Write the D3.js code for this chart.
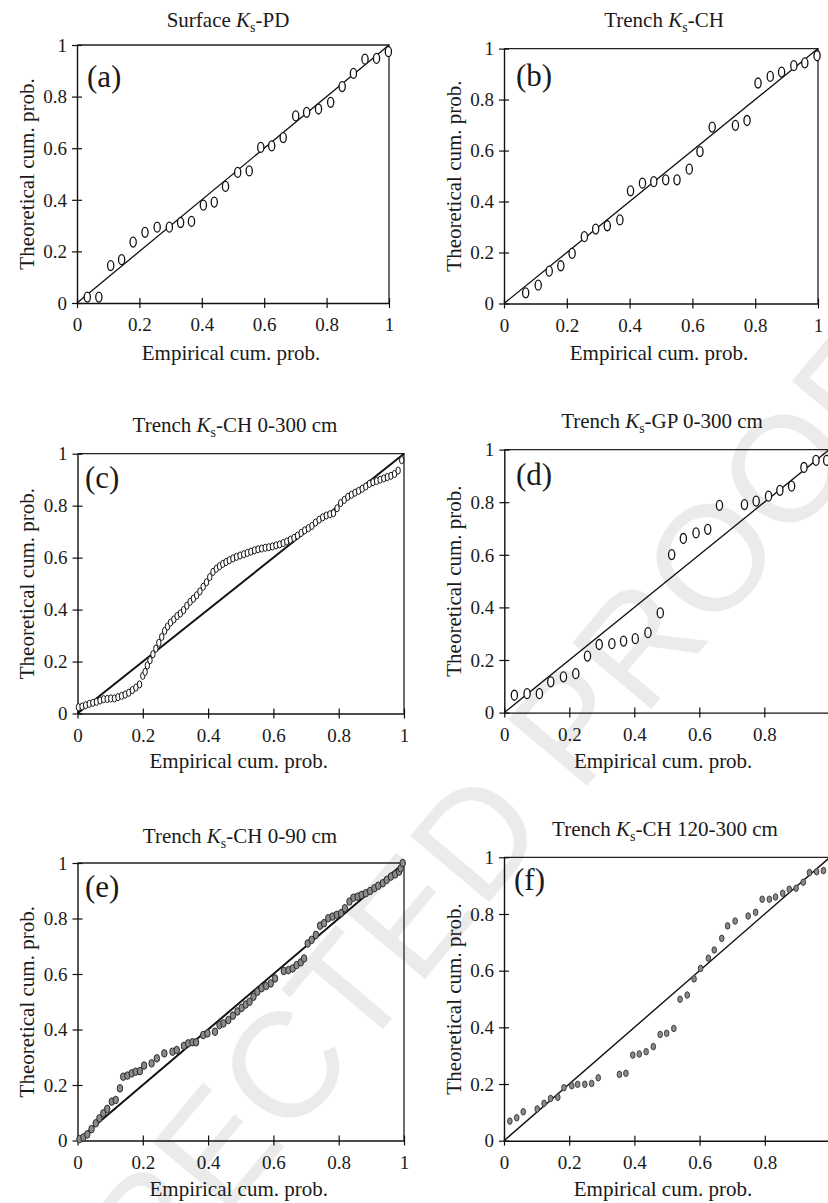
<!DOCTYPE html>
<html><head><meta charset="utf-8">
<script src="https://cdn.jsdelivr.net/npm/d3@7"></script>
<style>
body{margin:0;background:#fff}
svg{display:block}
svg text{font-family:"Liberation Serif","LiberationSerif",Tinos,"Times New Roman",Times,"Noto Serif","DejaVu Serif",serif !important;fill:#1a1a1a}
svg text.wm{font-family:"Liberation Sans",Arimo,Arial,"DejaVu Sans",sans-serif !important;fill:#ebebeb}
</style>
</head><body>
<svg id="chart" width="828" height="1203"></svg>
<script>
// ---------- data ----------
const tickValues = [0, 0.2, 0.4, 0.6, 0.8, 1];
const tickLabels = ["0", "0.2", "0.4", "0.6", "0.8", "1"];
const panelLetters = ["(a)", "(b)", "(c)", "(d)", "(e)", "(f)"];
const titleHead = ["Surface ", "Trench ", "Trench ", "Trench ", "Trench ", "Trench "];
const titleTail = ["-PD", "-CH", "-CH 0-300 cm", "-GP 0-300 cm", "-CH 0-90 cm", "-CH 120-300 cm"];
const xAxisTitle = "Empirical cum. prob.";
const yAxisTitle = "Theoretical cum. prob.";
const fitLine = [0, 1];
const watermarkWords = ["UNCORRECTED", "PROOF"];

const aEmp = [0.033,0.07,0.108,0.143,0.18,0.218,0.257,0.296,0.332,0.367,0.405,0.44,0.476,0.515,0.552,0.589,0.624,0.661,0.701,0.736,0.774,0.813,0.85,0.886,0.923,0.96,0.998];
const aTheo = [0.023,0.023,0.145,0.168,0.236,0.274,0.294,0.294,0.312,0.316,0.379,0.391,0.452,0.506,0.512,0.603,0.609,0.641,0.725,0.739,0.752,0.778,0.839,0.89,0.945,0.948,0.974];

const bEmp = [0.069,0.109,0.144,0.181,0.217,0.256,0.292,0.329,0.369,0.403,0.441,0.477,0.515,0.551,0.59,0.624,0.663,0.737,0.774,0.809,0.848,0.884,0.923,0.958,0.997];
const bTheo = [0.042,0.072,0.127,0.148,0.197,0.262,0.292,0.305,0.328,0.442,0.472,0.478,0.485,0.485,0.527,0.596,0.692,0.699,0.718,0.865,0.891,0.908,0.933,0.944,0.972];

const cEmp = [0.003,0.014,0.025,0.036,0.047,0.058,0.069,0.08,0.091,0.102,0.113,0.124,0.135,0.146,0.157,0.168,0.179,0.19,0.2,0.207,0.214,0.222,0.231,0.24,0.249,0.258,0.267,0.276,0.285,0.295,0.305,0.315,0.325,0.335,0.345,0.355,0.365,0.375,0.385,0.395,0.405,0.415,0.425,0.435,0.445,0.455,0.465,0.476,0.487,0.498,0.509,0.52,0.531,0.542,0.553,0.564,0.575,0.586,0.597,0.608,0.619,0.63,0.641,0.652,0.663,0.674,0.685,0.696,0.707,0.718,0.729,0.74,0.751,0.762,0.773,0.784,0.795,0.806,0.817,0.828,0.839,0.85,0.861,0.872,0.883,0.894,0.905,0.916,0.927,0.938,0.949,0.96,0.971,0.982,0.993];
const cTheo = [0.024,0.027,0.032,0.037,0.041,0.045,0.05,0.055,0.056,0.058,0.058,0.063,0.068,0.073,0.08,0.09,0.1,0.112,0.145,0.16,0.185,0.205,0.228,0.25,0.272,0.295,0.318,0.335,0.35,0.362,0.375,0.385,0.398,0.415,0.43,0.442,0.455,0.47,0.488,0.505,0.525,0.545,0.557,0.567,0.576,0.583,0.59,0.597,0.603,0.608,0.613,0.618,0.623,0.628,0.632,0.635,0.638,0.64,0.643,0.647,0.651,0.656,0.662,0.669,0.676,0.685,0.695,0.705,0.713,0.722,0.735,0.746,0.755,0.762,0.767,0.771,0.79,0.81,0.822,0.834,0.842,0.85,0.857,0.865,0.874,0.884,0.89,0.895,0.9,0.905,0.91,0.915,0.922,0.935,0.975];

const dEmp = [0.031,0.07,0.108,0.143,0.182,0.22,0.256,0.292,0.331,0.367,0.403,0.442,0.48,0.515,0.551,0.59,0.626,0.662,0.739,0.775,0.813,0.848,0.884,0.922,0.959,0.992];
const dTheo = [0.066,0.072,0.072,0.117,0.136,0.148,0.215,0.259,0.262,0.272,0.281,0.304,0.379,0.601,0.662,0.683,0.697,0.788,0.791,0.804,0.823,0.845,0.861,0.932,0.959,0.959];

const eEmp = [0.006,0.018,0.03,0.043,0.056,0.067,0.079,0.091,0.105,0.117,0.13,0.14,0.153,0.166,0.178,0.191,0.204,0.227,0.243,0.266,0.291,0.304,0.326,0.339,0.352,0.363,0.385,0.398,0.421,0.435,0.447,0.462,0.476,0.49,0.503,0.515,0.527,0.539,0.551,0.564,0.578,0.592,0.605,0.632,0.646,0.659,0.671,0.684,0.694,0.705,0.717,0.73,0.743,0.755,0.768,0.781,0.794,0.807,0.819,0.833,0.845,0.858,0.87,0.883,0.896,0.909,0.921,0.935,0.947,0.96,0.973,0.985,0.99,0.996];
const eTheo = [0.005,0.011,0.022,0.041,0.062,0.08,0.098,0.114,0.14,0.146,0.188,0.23,0.234,0.242,0.248,0.25,0.27,0.278,0.296,0.314,0.32,0.326,0.341,0.35,0.354,0.354,0.38,0.386,0.392,0.416,0.422,0.434,0.45,0.465,0.478,0.49,0.5,0.518,0.536,0.549,0.557,0.566,0.584,0.611,0.614,0.62,0.632,0.642,0.656,0.71,0.723,0.741,0.774,0.783,0.801,0.807,0.813,0.819,0.837,0.861,0.875,0.879,0.885,0.891,0.899,0.909,0.918,0.927,0.939,0.951,0.959,0.969,0.981,1.0];

const fEmp = [0.018,0.039,0.059,0.102,0.123,0.143,0.165,0.184,0.208,0.226,0.248,0.269,0.289,0.354,0.374,0.395,0.415,0.436,0.458,0.479,0.499,0.521,0.54,0.562,0.583,0.603,0.627,0.645,0.668,0.686,0.709,0.749,0.772,0.792,0.814,0.833,0.855,0.875,0.896,0.918,0.937,0.959,0.98];
const fTheo = [0.069,0.081,0.102,0.112,0.132,0.149,0.153,0.187,0.194,0.199,0.199,0.202,0.222,0.234,0.238,0.302,0.306,0.314,0.332,0.375,0.379,0.396,0.499,0.514,0.571,0.608,0.644,0.673,0.714,0.758,0.775,0.793,0.806,0.852,0.852,0.86,0.873,0.887,0.891,0.912,0.946,0.949,0.953];

const seriesEmp = [aEmp, bEmp, cEmp, dEmp, eEmp, fEmp];
const seriesTheo = [aTheo, bTheo, cTheo, dTheo, eTheo, fTheo];

// ---------- layout / style ----------
const W = 828;
const layout = [
  {x0:77,   x1:389,   yb:303,   yt:45,    tb:27,  tx:228, lx:87,  ly:87,  yt_x:34,  xb:360,  mk:{rx:3.1,ry:5,fill:"#fff",stroke:"#111",sw:1.3}, lw:1.3},
  {x0:504,  x1:818,   yb:303.5, yt:48.6,  tb:27,  tx:664, lx:516, ly:86,  yt_x:461, xb:360,  mk:{rx:3.1,ry:5,fill:"#fff",stroke:"#111",sw:1.3}, lw:1.3},
  {x0:77.5, x1:404,   yb:713.5, yt:453.7, tb:432, tx:235, lx:85,  ly:488, yt_x:34,  xb:768,  mk:{rx:2.2,ry:3.6,fill:"#fff",stroke:"#111",sw:1}, lw:2},
  {x0:504.3,x1:829.3, yb:712.6, yt:449.6, tb:428, tx:662, lx:516, ly:485, yt_x:461, xb:768,  mk:{rx:3.1,ry:5,fill:"#fff",stroke:"#111",sw:1.3}, lw:1.3},
  {x0:77.5, x1:404,   yb:1140.5,yt:863,   tb:843, tx:240, lx:85,  ly:897, yt_x:34,  xb:1196, mk:{rx:2.7,ry:3.8,fill:"#8a8a8a",stroke:"#2a2a2a",sw:1}, lw:2},
  {x0:504,  x1:830,   yb:1140.7,yt:857.3, tb:836, tx:665, lx:514, ly:890, yt_x:461, xb:1196, mk:{rx:2.3,ry:3.3,fill:"#8a8a8a",stroke:"#333",sw:0.9}, lw:1.4}
];

const svg = d3.select("#chart");

// watermark (very light)
const wm = svg.append("g").attr("transform", "translate(565,812) rotate(-50)");
wm.append("text").attr("class", "wm").attr("x", -22).attr("text-anchor", "end")
  .style("font-size", "150px").text(watermarkWords[0]);
wm.append("text").attr("class", "wm").attr("x", 22).attr("text-anchor", "start")
  .style("font-size", "150px").text(watermarkWords[1]);

layout.forEach((L, i) => {
  const x = d3.scaleLinear().domain([0, 1]).range([L.x0, L.x1]);
  const y = d3.scaleLinear().domain([0, 1]).range([L.yb, L.yt]);
  const g = svg.append("g");
  const fmtX = (d, k) => (x(d) > W - 4 ? "" : tickLabels[k]);

  // frame (top and right)
  g.append("path")
    .attr("d", `M${x(0)},${y(1)}H${x(1)}V${y(0)}`)
    .attr("fill", "none").attr("stroke", "#222").attr("stroke-width", 1.3);

  // x axis
  const xa = g.append("g").attr("transform", `translate(0,${y(0)})`)
    .call(d3.axisBottom(x).tickValues(tickValues).tickFormat(fmtX).tickSizeOuter(0));
  xa.select(".domain").attr("stroke", "#111").attr("stroke-width", 1.4);
  xa.selectAll(".tick line").attr("y1", -5).attr("y2", 5).attr("stroke", "#111").attr("stroke-width", 1.2);
  xa.selectAll(".tick text").attr("y", 28).attr("dy", 0).style("font-size", "19px");

  // y axis
  const ya = g.append("g").attr("transform", `translate(${x(0)},0)`)
    .call(d3.axisLeft(y).tickValues(tickValues).tickFormat((d, k) => tickLabels[k]).tickSizeOuter(0));
  ya.select(".domain").attr("stroke", "#111").attr("stroke-width", 1.4);
  ya.selectAll(".tick line").attr("x1", -5).attr("x2", 5).attr("stroke", "#111").attr("stroke-width", 1.2);
  ya.selectAll(".tick text").attr("x", -10).attr("dy", "0.33em").style("font-size", "19px");

  // 1:1 line
  g.append("line")
    .attr("x1", x(fitLine[0])).attr("y1", y(fitLine[0]))
    .attr("x2", x(fitLine[1])).attr("y2", y(fitLine[1]))
    .attr("stroke", "#111").attr("stroke-width", L.lw);

  // points
  const pts = d3.zip(seriesEmp[i], seriesTheo[i]);
  g.selectAll("ellipse.pt").data(pts).join("ellipse")
    .attr("class", "pt")
    .attr("cx", d => x(d[0])).attr("cy", d => y(d[1]))
    .attr("rx", L.mk.rx).attr("ry", L.mk.ry)
    .attr("fill", L.mk.fill).attr("stroke", L.mk.stroke).attr("stroke-width", L.mk.sw);

  // panel letter
  g.append("text").attr("x", L.lx).attr("y", L.ly)
    .style("font-size", "31px").text(panelLetters[i]);

  // title
  const t = g.append("text").attr("x", L.tx).attr("y", L.tb)
    .attr("text-anchor", "middle").style("font-size", "21px");
  t.append("tspan").text(titleHead[i]);
  t.append("tspan").style("font-style", "italic").text("K");
  t.append("tspan").attr("dy", 5).style("font-size", "14px").text("s");
  t.append("tspan").attr("dy", -5).text(titleTail[i]);

  // axis titles
  g.append("text").attr("x", (L.x0 + Math.min(L.x1, 826)) / 2 - 2).attr("y", L.xb)
    .attr("text-anchor", "middle").style("font-size", "21px").text(xAxisTitle);
  g.append("text")
    .attr("transform", `translate(${L.yt_x},${(L.yb + L.yt) / 2}) rotate(-90)`)
    .attr("text-anchor", "middle").style("font-size", "21px").text(yAxisTitle);
});
</script>
</body></html>
